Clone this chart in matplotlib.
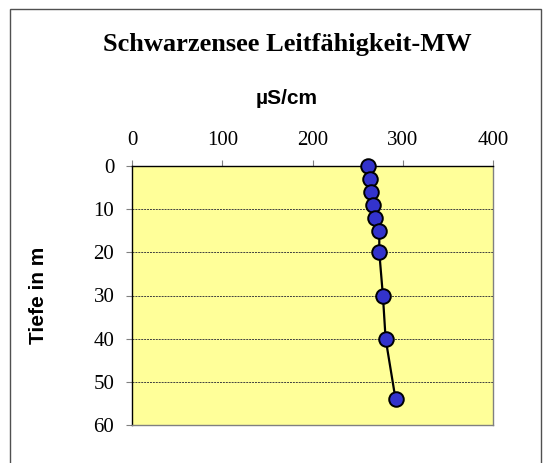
import matplotlib
matplotlib.use("Agg")
import matplotlib.pyplot as plt
from matplotlib.patches import Rectangle

# Leitfähigkeit (µS/cm) über Tiefe (m)
tiefe = [0, 3, 6, 9, 12, 15, 20, 30, 40, 54]
leitf = [262, 264, 265, 267, 269, 274, 274, 278, 281, 292]

x_ticks = [0, 100, 200, 300, 400]
y_ticks = [0, 10, 20, 30, 40, 50, 60]

serif = "Liberation Serif"
sans = "Liberation Sans"

fig = plt.figure(figsize=(5.46, 4.63), dpi=100)
ax = fig.add_axes([132/546, 1 - 425/463, 361/546, 259/463])

ax.set_facecolor("#FFFF99")
ax.plot(leitf, tiefe, color="black", lw=1.6, marker="o", markersize=10.5,
        markerfacecolor="#3333CC", markeredgecolor="black", markeredgewidth=1.4,
        zorder=3, clip_on=False)

ax.set_xlim(0, 400)
ax.set_ylim(60, 0)
ax.set_xticks(x_ticks)
ax.set_yticks(y_ticks)
ax.xaxis.tick_top()
ax.tick_params(axis="both", direction="out", length=4.2, color="#808080",
               labelsize=15)
ax.tick_params(axis="x", pad=7.5)
ax.tick_params(axis="y", pad=8.5)
for lab in ax.get_xticklabels() + ax.get_yticklabels():
    lab.set_fontfamily(serif)

ax.yaxis.grid(True, color="#404040", lw=0.7, linestyle=(0, (2, 1)))
ax.set_axisbelow(True)

ax.spines["left"].set_color("black")
ax.spines["top"].set_color("black")
ax.spines["right"].set_color("#808080")
ax.spines["bottom"].set_color("#808080")
for s in ax.spines.values():
    s.set_linewidth(1.0)

fig.text(287/546, 1 - 45/463, "Schwarzensee Leitfähigkeit-MW", ha="center", va="center",
         fontsize=19, fontweight="bold", family=serif)
fig.text(287/546, 1 - 98/463, "µS/cm", ha="center", va="center",
         fontsize=15, fontweight="bold", family=sans)
fig.text(38/546, 1 - 295/463, "Tiefe in m", ha="center", va="center", rotation=90,
         fontsize=15, fontweight="bold", family=sans)

# Rahmen ums Diagramm
fig.patches.append(Rectangle((10/546, -0.05), 531/546, 1.05 - 9/463,
                             transform=fig.transFigure, fill=False,
                             edgecolor="#505050", lw=1.0))

fig.savefig("out.png", dpi=100, facecolor="white")
